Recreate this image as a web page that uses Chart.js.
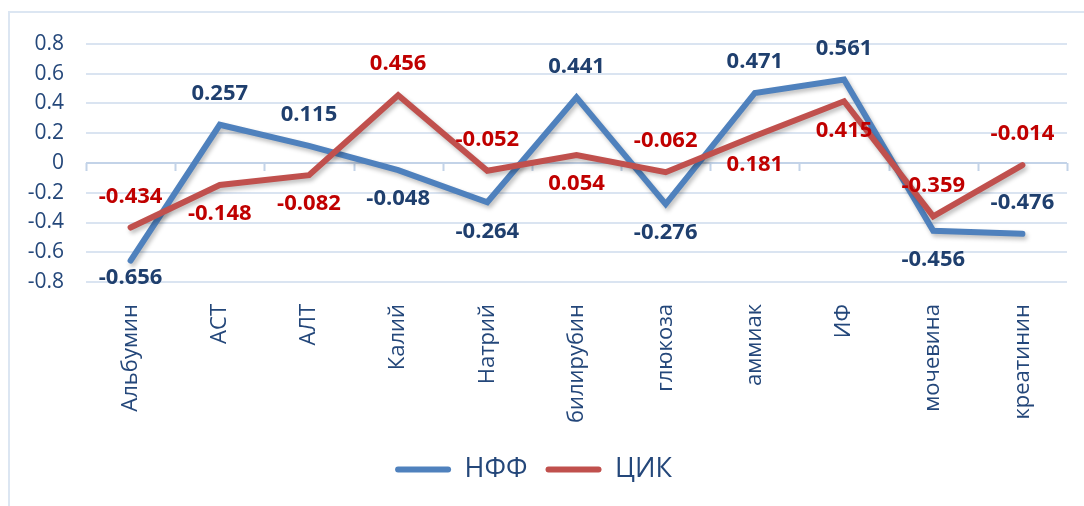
<!DOCTYPE html>
<html lang="ru">
<head>
  <meta charset="UTF-8">
  <title>НФФ / ЦИК</title>
  <script src="https://cdn.jsdelivr.net/npm/chart.js"></script>
  <style>
    html, body {
      margin: 0;
      padding: 0;
      background: #fff;
      overflow: hidden;
      width: 1084px;
      height: 506px;
    }
    /* light chart frame, runs off the right and bottom edges */
    .frame {
      position: absolute;
      left: 8px;
      top: 11px;
      width: 1200px;
      height: 600px;
      border: 2px solid #dce6f2;
    }
    .chart-container {
      position: absolute;
      left: 0;
      top: 0;
      width: 1084px;
      height: 506px;
    }
  </style>
</head>
<body>
  <div class="frame"></div>
  <div class="chart-container">
    <canvas id="corrChart"></canvas>
  </div>

  <script>
    // Data
    const categories = ['Альбумин', 'АСТ', 'АЛТ', 'Калий', 'Натрий', 'билирубин', 'глюкоза', 'аммиак', 'ИФ', 'мочевина', 'креатинин'];
    const nffValues = [-0.656, 0.257, 0.115, -0.048, -0.264, 0.441, -0.276, 0.471, 0.561, -0.456, -0.476];
    const cikValues = [-0.434, -0.148, -0.082, 0.456, -0.052, 0.054, -0.062, 0.181, 0.415, -0.359, -0.014];
    // where each value label sits relative to its point
    const nffLabelSide = ['below', 'above', 'above', 'below', 'below', 'above', 'below', 'above', 'above', 'below', 'above'];
    const cikLabelSide = ['above', 'below', 'below', 'above', 'above', 'below', 'above', 'below', 'below', 'above', 'above'];
    const yTickValues = [0.8, 0.6, 0.4, 0.2, 0, -0.2, -0.4, -0.6, -0.8];

    const textColor = '#24477a';
    const gridColor = '#dae4f1';
    const zeroColor = '#c3d3e8';

    // tick marks on the zero line at category boundaries
    const zeroAxisPlugin = {
      id: 'zeroAxis',
      beforeDatasetsDraw(chart) {
        const { ctx, chartArea, scales } = chart;
        const y0 = scales.y.getPixelForValue(0);
        const step = (chartArea.right - chartArea.left) / categories.length;
        ctx.save();
        ctx.strokeStyle = zeroColor;
        ctx.lineWidth = 2;
        ctx.beginPath();
        for (let i = 0; i <= categories.length; i++) {
          const x = Math.round(chartArea.left + i * step) + 0.5;
          ctx.moveTo(x, y0);
          ctx.lineTo(x, y0 + 8);
        }
        ctx.stroke();
        ctx.restore();
      }
    };

    // soft shadow under the lines
    const shadowPlugin = {
      id: 'lineShadow',
      beforeDatasetDraw(chart) {
        const ctx = chart.ctx;
        ctx.save();
        ctx.shadowColor = 'rgba(0,0,0,0.25)';
        ctx.shadowBlur = 4;
        ctx.shadowOffsetX = 2;
        ctx.shadowOffsetY = 3;
      },
      afterDatasetDraw(chart) {
        chart.ctx.restore();
      }
    };

    // value labels (no datalabels plugin available)
    const valueLabelPlugin = {
      id: 'valueLabels',
      afterDatasetsDraw(chart) {
        const ctx = chart.ctx;
        const bottom = chart.chartArea.bottom;
        ctx.save();
        ctx.font = 'bold 22px "Open Sans"';
        ctx.textAlign = 'center';
        ctx.textBaseline = 'middle';
        chart.data.datasets.forEach((ds, di) => {
          const meta = chart.getDatasetMeta(di);
          ctx.fillStyle = ds.labelColor;
          meta.data.forEach((pt, i) => {
            const off = ds.labelSide[i] === 'above' ? -31 : 29;
            // keep labels from running below the plot
            const y = Math.min(pt.y + off, bottom - 4);
            ctx.fillText(ds.data[i].toFixed(3), pt.x, y);
          });
        });
        ctx.restore();
      }
    };

    const ctx = document.getElementById('corrChart').getContext('2d');
    new Chart(ctx, {
      type: 'line',
      data: {
        labels: categories,
        datasets: [{
          label: 'НФФ',
          data: nffValues,
          borderColor: '#4f81bd',
          backgroundColor: '#4f81bd',
          borderWidth: 6,
          pointRadius: 0,
          borderCapStyle: 'round',
          tension: 0,
          order: 1,
          labelColor: '#1f3f6e',
          labelSide: nffLabelSide
        }, {
          label: 'ЦИК',
          data: cikValues,
          borderColor: '#c0504d',
          backgroundColor: '#c0504d',
          borderWidth: 6,
          pointRadius: 0,
          borderCapStyle: 'round',
          tension: 0,
          order: 0,
          labelColor: '#c00000',
          labelSide: cikLabelSide
        }]
      },
      options: {
        responsive: true,
        maintainAspectRatio: false,
        animation: false,
        layout: {
          padding: { left: 0, right: 17, top: 44, bottom: 13 }
        },
        plugins: {
          tooltip: { enabled: false },
          legend: {
            position: 'bottom',
            labels: {
              color: textColor,
              font: { family: '"Open Sans"', size: 27 },
              boxWidth: 56,
              boxHeight: 6,
              padding: 18,
              useBorderRadius: true,
              borderRadius: 3,
              sort: (a, b) => a.datasetIndex - b.datasetIndex,
              generateLabels(chart) {
                return Chart.defaults.plugins.legend.labels.generateLabels(chart).map(l => ({
                  ...l, lineWidth: 0, borderRadius: 3
                }));
              }
            }
          }
        },
        scales: {
          x: {
            offset: true,
            grid: { display: false },
            border: { display: false },
            ticks: {
              color: textColor,
              font: { family: '"Open Sans"', size: 22 },
              minRotation: 90,
              maxRotation: 90,
              autoSkip: false,
              padding: 14
            },
            afterFit(scale) { scale.height = 156; }
          },
          y: {
            min: -0.8,
            max: 0.8,
            border: { display: false },
            grid: {
              drawTicks: false,
              lineWidth: 2,
              color: c => (c.tick && c.tick.value === 0 ? zeroColor : gridColor)
            },
            afterBuildTicks(scale) {
              scale.ticks = yTickValues.map(v => ({ value: v }));
            },
            ticks: {
              color: textColor,
              font: { family: '"Open Sans"', size: 21 },
              padding: 22,
              callback: v => (Math.abs(v) < 1e-9 ? '0' : String(v))
            },
            afterFit(scale) { scale.width = 86; }
          }
        }
      },
      plugins: [zeroAxisPlugin, shadowPlugin, valueLabelPlugin]
    });
  </script>
</body>
</html>
